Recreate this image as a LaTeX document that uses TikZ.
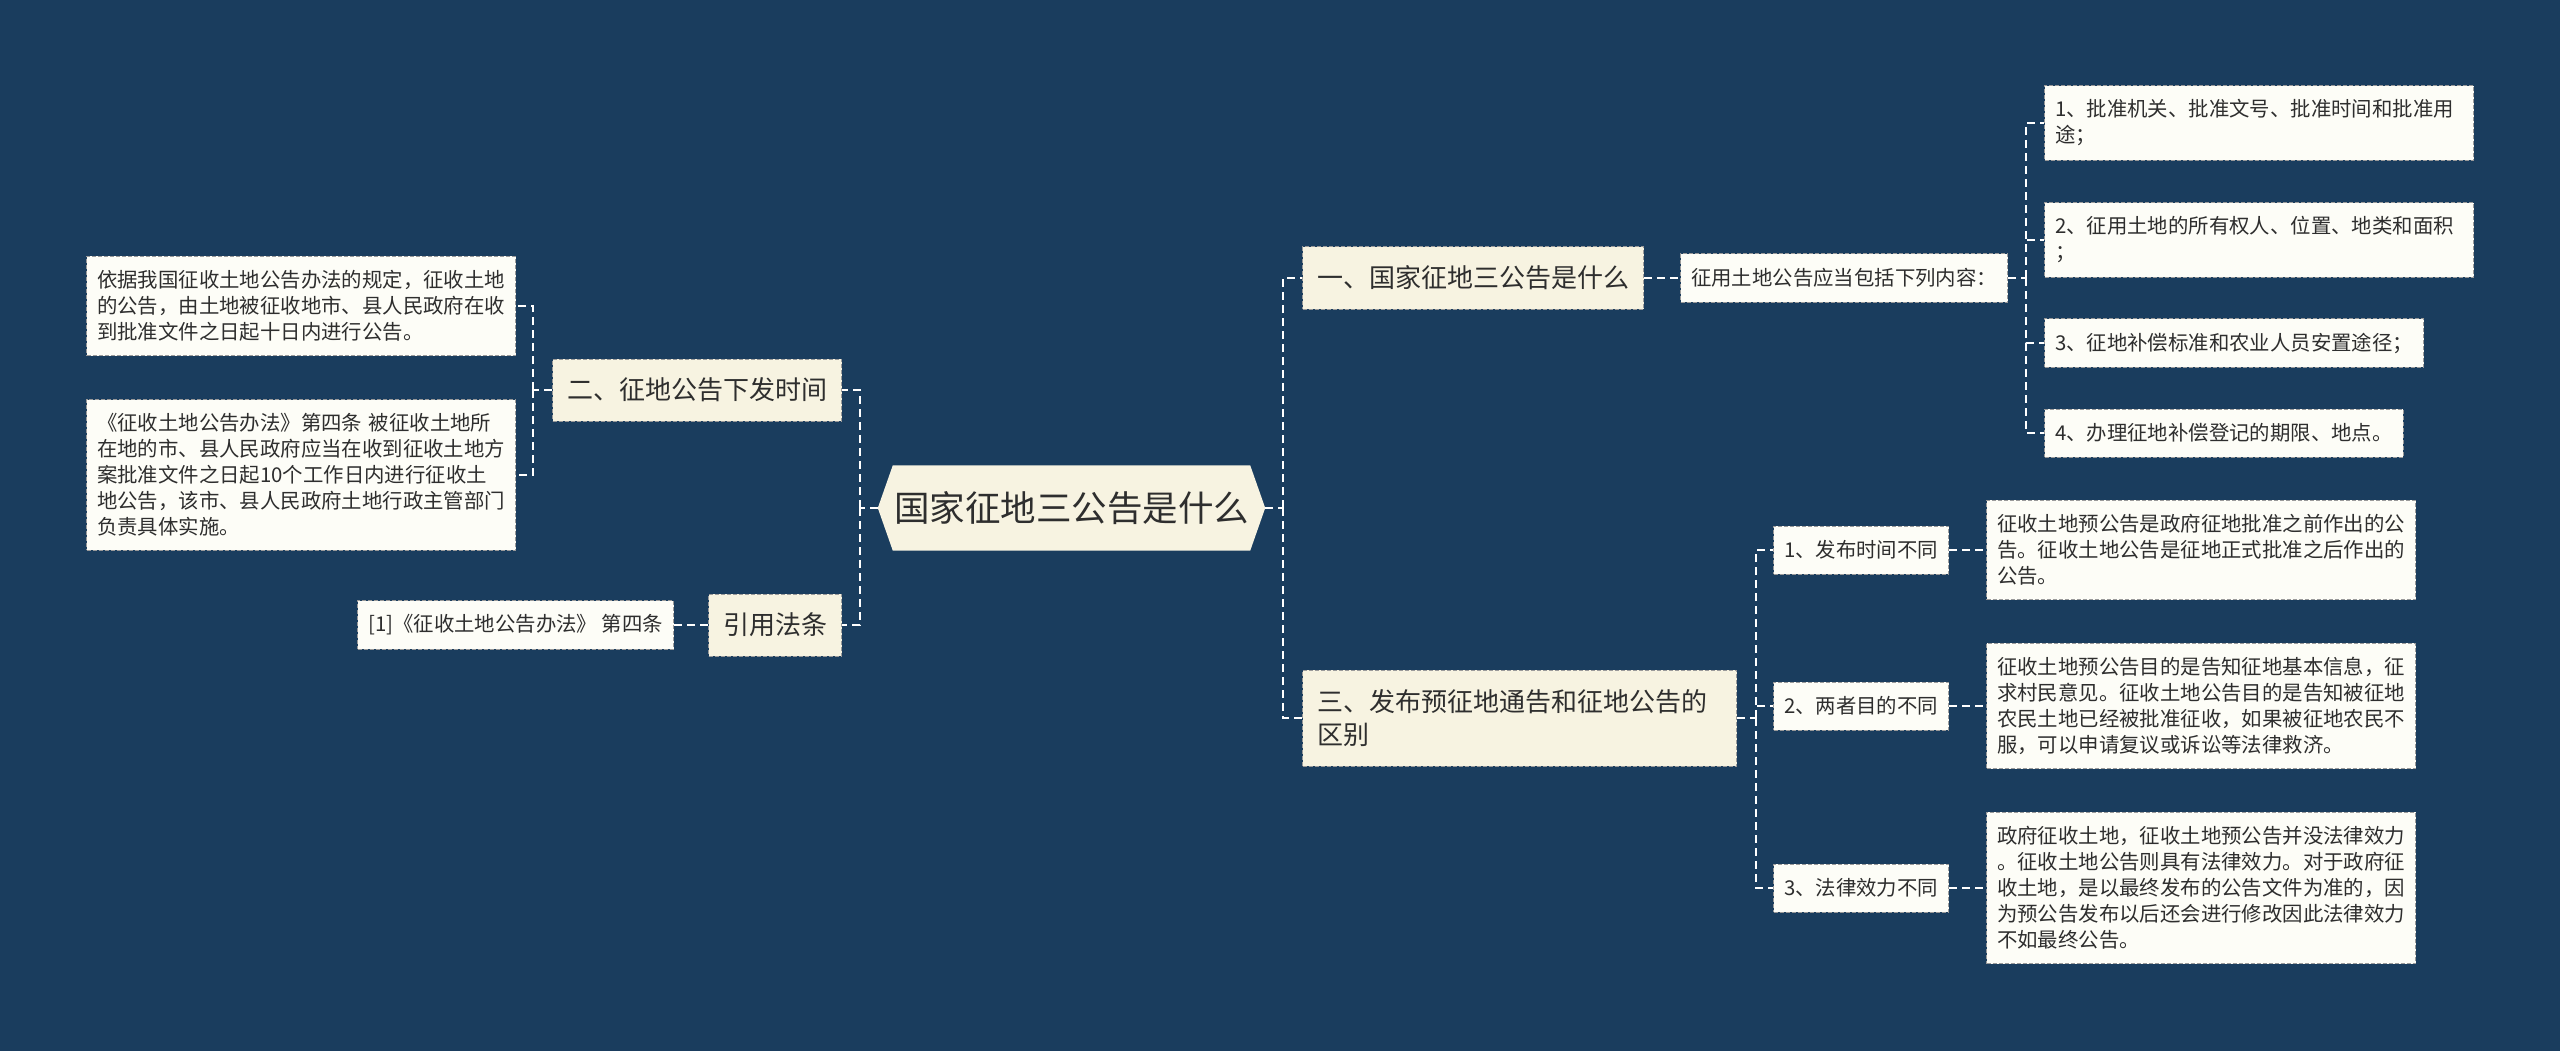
\documentclass[tikz,border=0pt]{standalone}
\usepackage{fontspec}
\setmainfont{Noto Sans CJK SC}
\usetikzlibrary{backgrounds}
\definecolor{bgblue}{HTML}{1A3D5E}
\definecolor{cream}{HTML}{F7F3E1}
\definecolor{paper}{HTML}{FDFDF7}
\definecolor{boxline}{HTML}{9A9A9A}
\definecolor{ink}{HTML}{2E2E2E}

\begin{document}
\begin{tikzpicture}[x=1pt,y=-1pt]
\tikzset{box/.style={draw=boxline,dash pattern=on 4pt off 2pt,line width=1pt,text=ink},
  root/.style={text=ink,font=\fontsize{35.5}{42}\selectfont,minimum width=387,minimum height=85,inner sep=0pt},
  topic/.style={box,fill=cream,font=\fontsize{26}{33}\selectfont,inner xsep=14.5pt,inner ysep=10pt,minimum height=62},
  leaf/.style={box,fill=paper,font=\fontsize{20.4}{26}\selectfont,inner xsep=10.5pt,inner ysep=14pt,minimum height=48},
  para/.style={leaf,text width=408pt,align=left},
  link/.style={draw=white,line width=2pt,dash pattern=on 8pt off 5pt}}

\path (1071.5,508) node[root] (root) {国家征地三公告是什么};

\path (842,390) node[topic,anchor=east] (n2) {二、征地公告下发时间};
\path (842,625) node[topic,anchor=east] (cite) {引用法条};
\path (516,306) node[para,anchor=east] (n2a) {依据我国征收土地公告办法的规定，征收土地\\的公告，由土地被征收地市、县人民政府在收\\到批准文件之日起十日内进行公告。};
\path (516,475) node[para,anchor=east] (n2b) {《征收土地公告办法》第四条 被征收土地所\\在地的市、县人民政府应当在收到征收土地方\\案批准文件之日起10个工作日内进行征收土\\地公告，该市、县人民政府土地行政主管部门\\负责具体实施。};
\path (674,625) node[leaf,anchor=east] (citea) {[1]《征收土地公告办法》 第四条};

\path (1302,278) node[topic,anchor=west] (n1) {一、国家征地三公告是什么};
\path (1680,278) node[leaf,anchor=west] (n1a) {征用土地公告应当包括下列内容：};
\path (2044,123) node[para,anchor=west] (i1) {1、批准机关、批准文号、批准时间和批准用\\途；};
\path (2044,240) node[para,anchor=west] (i2) {2、征用土地的所有权人、位置、地类和面积\\；};
\path (2044,343) node[leaf,anchor=west] (i3) {3、征地补偿标准和农业人员安置途径；};
\path (2044,433) node[leaf,anchor=west] (i4) {4、办理征地补偿登记的期限、地点。};

\path (1302,718) node[topic,anchor=west,text width=405pt,align=left,minimum height=96] (n3) {三、发布预征地通告和征地公告的\\区别};
\path (1773,550) node[leaf,anchor=west] (s1) {1、发布时间不同};
\path (1773,706) node[leaf,anchor=west] (s2) {2、两者目的不同};
\path (1773,888) node[leaf,anchor=west] (s3) {3、法律效力不同};
\path (1986,550) node[para,anchor=west] (t1) {征收土地预公告是政府征地批准之前作出的公\\告。征收土地公告是征地正式批准之后作出的\\公告。};
\path (1986,706) node[para,anchor=west] (t2) {征收土地预公告目的是告知征地基本信息，征\\求村民意见。征收土地公告目的是告知被征地\\农民土地已经被批准征收，如果被征地农民不\\服，可以申请复议或诉讼等法律救济。};
\path (1986,888) node[para,anchor=west] (t3) {政府征收土地，征收土地预公告并没法律效力\\。征收土地公告则具有法律效力。对于政府征\\收土地，是以最终发布的公告文件为准的，因\\为预公告发布以后还会进行修改因此法律效力\\不如最终公告。};

\coordinate (jl) at ([xshift=-18pt]root.west);
\coordinate (jr) at ([xshift=18pt]root.east);
\coordinate (j2) at ([xshift=-19pt]n2.west);
\coordinate (j1) at ([xshift=18pt]n1a.east);
\coordinate (j3) at ([xshift=19pt]n3.east);

\draw[link] (root.west) -- (jl);
\draw[link] (jl) |- (n2.east);
\draw[link] (jl) |- (cite.east);
\draw[link] (n2.west) -- (j2);
\draw[link] (j2) |- (n2a.east);
\draw[link] (j2) |- (n2b.east);
\draw[link] (cite.west) -- (citea.east);

\draw[link] (root.east) -- (jr);
\draw[link] (jr) |- (n1.west);
\draw[link] (jr) |- (n3.west);
\draw[link] (n1.east) -- (n1a.west);
\draw[link] (n1a.east) -- (j1);
\foreach \i in {1,...,4}
  \draw[link] (j1) |- (i\i.west);
\draw[link] (n3.east) -- (j3);
\foreach \i in {1,2,3}{
  \draw[link] (j3) |- (s\i.west);
  \draw[link] (s\i.east) -- (t\i.west);
}

\begin{scope}[on background layer]
\fill[bgblue] (0,0) rectangle (2560,1051);
\fill[cream] (root.west) -- ([xshift=15pt]root.north west) -- ([xshift=-15pt]root.north east)
  -- (root.east) -- ([xshift=-15pt]root.south east) -- ([xshift=15pt]root.south west) -- cycle;
\end{scope}
\end{tikzpicture}
\end{document}
